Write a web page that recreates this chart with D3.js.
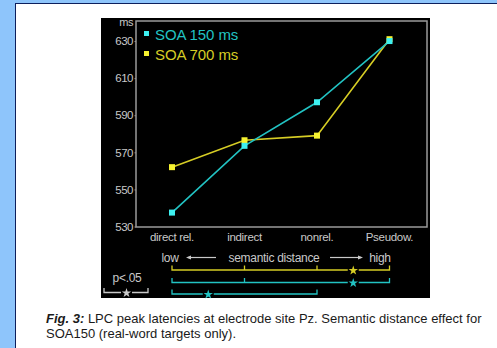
<!DOCTYPE html>
<html>
<head>
<meta charset="utf-8">
<script src="https://cdn.jsdelivr.net/npm/d3@7"></script>
<style>
  html, body { margin: 0; padding: 0; background: #8ec5fb; }
  svg { display: block; }
  text { font-family: "Liberation Sans", Arial, sans-serif; }
</style>
</head>
<body>
<svg id="chart" width="497" height="348"></svg>
<script>
// data
var categories = ["direct rel.", "indirect", "nonrel.", "Pseudow."]
var seriesNames = ["SOA 150 ms", "SOA 700 ms"]
var soa150 = [537.5, 573.5, 597, 630]
var soa700 = [562, 576.5, 579, 631]
var yTicks = [530, 550, 570, 590, 610, 630]

// significance brackets (p<.05) below the plot
var bracketSeries = ["SOA 700 ms", "SOA 150 ms", "SOA 150 ms"]
var bracketFrom = ["direct rel.", "direct rel.", "direct rel."]
var bracketTo = ["Pseudow.", "Pseudow.", "nonrel."]
var bracketTicks = [["indirect", "nonrel."], ["indirect"], []]
var bracketStar = [["nonrel.", "Pseudow."], ["nonrel.", "Pseudow."], ["direct rel.", "indirect"]]

var width = 497, height = 348
var svg = d3.select("#chart")

var lineColor = d3.scaleOrdinal().domain(seriesNames).range(["#22c3c3", "#d6cd25"])
var markColor = d3.scaleOrdinal().domain(seriesNames).range(["#3ef0f0", "#f6f230"])

// white page panel with dark edge
svg.append("rect")
    .attr("x", 15.5).attr("y", 3.5)
    .attr("width", width).attr("height", height)
    .attr("fill", "#fff")
    .attr("stroke", "#0d1f5c")
    .attr("stroke-width", 1)

// black figure
svg.append("rect")
    .attr("x", 101).attr("y", 18)
    .attr("width", 329).attr("height", 280)
    .attr("fill", "#000")

var frame = { left: 136, right: 427, top: 21, bottom: 227 }

var x = d3.scalePoint().domain(categories).range([172, 389.5])
var y = d3.scaleLinear().domain([530, 640]).range([226.5, 22.5])

// plot frame
svg.append("rect")
    .attr("x", frame.left).attr("y", frame.top)
    .attr("width", frame.right - frame.left).attr("height", frame.bottom - frame.top)
    .attr("fill", "none")
    .attr("stroke", "#9a9a9a")
    .attr("stroke-width", 1.5)

var textCol = "#c9c9c9"

// y axis
var yAxis = svg.append("g")
    .attr("transform", "translate(" + frame.left + ",0)")
    .call(d3.axisLeft(y).tickValues(yTicks).tickSize(1.5).tickPadding(1.5))
yAxis.select(".domain").remove()
yAxis.selectAll("line").attr("stroke", "#9a9a9a")
yAxis.selectAll("text")
    .attr("fill", textCol)
    .style("font-family", "Liberation Sans, Arial, sans-serif")
    .style("font-size", "11.5px")
    .style("letter-spacing", "-0.5px")

svg.append("text")
    .attr("x", 133).attr("y", 26)
    .attr("text-anchor", "end")
    .attr("fill", textCol)
    .style("font-size", "11px")
    .style("letter-spacing", "-0.4px")
    .text("ms")

// x category labels
svg.append("g").selectAll("text")
    .data(categories)
    .enter()
    .append("text")
    .attr("x", (d) => x(d))
    .attr("y", 240.5)
    .attr("text-anchor", "middle")
    .attr("fill", textCol)
    .style("font-size", "11.5px")
    .style("letter-spacing", "-0.3px")
    .text((d) => d)

// lines and markers, yellow under cyan
var series = [
    { name: "SOA 700 ms", values: soa700 },
    { name: "SOA 150 ms", values: soa150 }
]

var line = d3.line()
    .x((d, i) => x(categories[i]))
    .y((d) => y(d))

series.forEach(function (s) {
    svg.append("path")
        .attr("d", line(s.values))
        .attr("fill", "none")
        .attr("stroke", lineColor(s.name))
        .attr("stroke-width", 1.6)
})
series.forEach(function (s) {
    svg.append("g").selectAll("rect")
        .data(s.values)
        .enter()
        .append("rect")
        .attr("x", (d, i) => x(categories[i]) - 3)
        .attr("y", (d) => y(d) - 3)
        .attr("width", 6).attr("height", 6)
        .attr("fill", markColor(s.name))
})

// legend
var legend = svg.append("g").selectAll("g")
    .data(seriesNames)
    .enter()
    .append("g")
    .attr("transform", (d, i) => "translate(144," + (39.5 + i * 20) + ")")
legend.append("rect")
    .attr("x", 0).attr("y", -8.5)
    .attr("width", 5).attr("height", 5)
    .attr("fill", (d) => markColor(d))
legend.append("text")
    .attr("x", 11).attr("y", 0)
    .attr("fill", (d) => lineColor(d))
    .style("font-size", "15px")
    .style("letter-spacing", "-0.1px")
    .text((d) => d)

// semantic distance arrow
var arrowY = 257.5
var axisText = svg.append("g")
    .attr("fill", textCol)
    .style("font-size", "12px")
    .style("letter-spacing", "-0.3px")
axisText.append("text").attr("x", 170).attr("y", arrowY + 4).attr("text-anchor", "middle").text("low")
axisText.append("text").attr("x", 274).attr("y", arrowY + 4).attr("text-anchor", "middle").text("semantic distance")
axisText.append("text").attr("x", 380).attr("y", arrowY + 4).attr("text-anchor", "middle").text("high")

svg.append("line").attr("x1", 188).attr("x2", 216).attr("y1", arrowY).attr("y2", arrowY)
    .attr("stroke", textCol).attr("stroke-width", 1.2)
svg.append("line").attr("x1", 330).attr("x2", 361).attr("y1", arrowY).attr("y2", arrowY)
    .attr("stroke", textCol).attr("stroke-width", 1.2)
svg.append("path").attr("d", "M186,257.5 L191,255.5 L191,259.5 Z").attr("fill", textCol)
svg.append("path").attr("d", "M363,257.5 L358,255.5 L358,259.5 Z").attr("fill", textCol)

// bracket helper: horizontal line with up ticks and a star gap
var star = d3.symbol().type(d3.symbolStar).size(28)
function bracket(g, x0, x1, yy, ticks, sx, col) {
    var gap = 5.5
    g.append("path")
        .attr("d", "M" + x0 + "," + (yy - 4.5) + "V" + yy + "H" + (sx - gap) +
            "M" + (sx + gap) + "," + yy + "H" + x1 + "V" + (yy - 4.5))
        .attr("fill", "none")
        .attr("stroke", col)
        .attr("stroke-width", 1.3)
    ticks.forEach(function (t) {
        g.append("line")
            .attr("x1", t).attr("x2", t)
            .attr("y1", yy).attr("y2", yy - 4.5)
            .attr("stroke", col).attr("stroke-width", 1.3)
    })
    g.append("path")
        .attr("d", star())
        .attr("transform", "translate(" + sx + "," + (yy + 0.5) + ")")
        .attr("fill", col)
}

var bracketY = [270, 282.5, 294]
var brackets = svg.append("g")
bracketSeries.forEach(function (s, i) {
    var sx = (x(bracketStar[i][0]) + x(bracketStar[i][1])) / 2
    bracket(brackets, x(bracketFrom[i]), x(bracketTo[i]), bracketY[i],
        bracketTicks[i].map((c) => x(c)), sx, lineColor(s))
})

// p<.05 key
svg.append("text")
    .attr("x", 127).attr("y", 282)
    .attr("text-anchor", "middle")
    .attr("fill", textCol)
    .style("font-size", "12px")
    .style("letter-spacing", "-0.3px")
    .text("p<.05")
bracket(svg.append("g"), 104, 148, 292.5, [], 126.5, textCol)

// caption
var caption = svg.append("text")
    .attr("x", 46).attr("y", 323)
    .attr("fill", "#1a1a1a")
    .style("font-size", "13px")
caption.append("tspan")
    .style("font-weight", "bold")
    .style("font-style", "italic")
    .text("Fig. 3:")
caption.append("tspan")
    .text(" LPC peak latencies at electrode site Pz. Semantic distance effect for")
svg.append("text")
    .attr("x", 46).attr("y", 338)
    .attr("fill", "#1a1a1a")
    .style("font-size", "13px")
    .text("SOA150 (real-word targets only).")
</script>
</body>
</html>
